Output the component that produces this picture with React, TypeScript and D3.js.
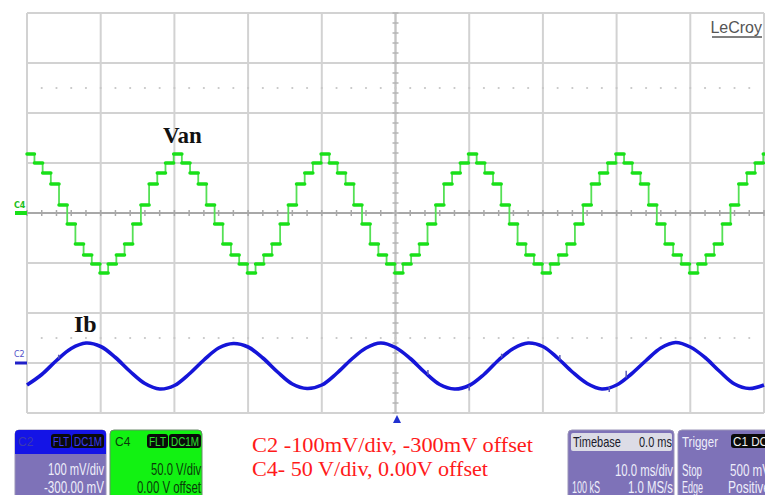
import * as d3 from 'd3';
import React, { useRef, useEffect } from 'react';

const W = 765;
const H = 495;

// C4 (Van): stair levels in volts over one 20 ms period, starting at the peak step
const vanLevels = [59, 50, 40, 29, 8, -11, -31, -42, -51, -60, -51, -42, -31, -11, 8, 29, 40, 50];
const vanPeriodMs = 20;
const vanStartMs = -0.1;

// C2 (Ib): trace read every 2 ms, in mV
const ibTimes = d3.range(0, 101, 2);
const ibValues = [
  -44, -23, 5, 29, 40, 33, 11, -17, -41, -52,
  -45, -22, 6, 30, 39, 32, 10, -18, -42, -51,
  -44, -21, 7, 30, 40, 31, 9, -19, -43, -52,
  -45, -23, 6, 29, 40, 33, 10, -18, -41, -52,
  -44, -22, 5, 30, 41, 32, 11, -17, -42, -51,
  -44,
];
// small glitches on the current trace: [time ms, height mV]
const ibSpikes = [[4.3, 8], [54.4, 10], [60, -10], [64.4, 8], [72.3, 10], [79, -10], [81.3, 14]];

const timeTicks = d3.range(0, 101, 10);
const voltTicks = d3.range(-200, 201, 50);

function Scope() {
  const ref = useRef(null);

  useEffect(() => {
    draw();
  }, []);

  const draw = () => {
    const svg = d3.select(ref.current);
    svg.selectAll('*').remove();

    const x = d3.scaleLinear().domain([0, 100]).range([27, 764]);
    const y4 = d3.scaleLinear().domain([-200, 200]).range([413, 13]);
    const y2 = d3.scaleLinear().domain([-100, 700]).range([413, 13]);

    svg.append('rect').attr('width', W).attr('height', H).attr('fill', '#fff');

    // grid
    const g = svg.append('g');
    g.selectAll('.vl').data(timeTicks).enter().append('line')
      .attr('x1', d => x(d)).attr('x2', d => x(d))
      .attr('y1', y4(200)).attr('y2', y4(-200))
      .attr('stroke', '#d2d2d2').attr('stroke-width', 2);
    g.selectAll('.hl').data(voltTicks).enter().append('line')
      .attr('x1', x(0)).attr('x2', x(100))
      .attr('y1', d => y4(d)).attr('y2', d => y4(d))
      .attr('stroke', d => d === 0 ? '#a8a8a8' : '#d2d2d2').attr('stroke-width', 2);
    g.append('line').attr('x1', x(50)).attr('x2', x(50)).attr('y1', y4(200)).attr('y2', y4(-200))
      .attr('stroke', '#c4c4c4').attr('stroke-width', 2);

    // minor ticks on centre axes
    g.selectAll('.mt').data(d3.range(0, 101, 2)).enter().append('line')
      .attr('x1', d => x(d)).attr('x2', d => x(d))
      .attr('y1', y4(0) - 3).attr('y2', y4(0) + 3)
      .attr('stroke', '#a8a8a8').attr('stroke-width', 1.5);
    g.selectAll('.mv').data(d3.range(-200, 201, 10)).enter().append('line')
      .attr('x1', x(50) - 3).attr('x2', x(50) + 3)
      .attr('y1', d => y4(d)).attr('y2', d => y4(d))
      .attr('stroke', '#b4b4b4').attr('stroke-width', 1.5);

    // dotted cursor rows
    const dotRows = [y4(125), y2(50)];
    dotRows.forEach(yy => {
      g.selectAll(null).data(d3.range(2, 100, 2)).enter().append('circle')
        .attr('cx', d => x(d)).attr('cy', yy).attr('r', 1.1).attr('fill', '#c6c6c6');
    });

    // LeCroy logo
    svg.append('text').attr('x', 762).attr('y', 33).attr('text-anchor', 'end')
      .attr('font-family', 'Liberation Sans').attr('font-size', 16).attr('fill', '#555')
      .text('LeCroy');
    svg.append('line').attr('x1', 712).attr('x2', 762).attr('y1', 37).attr('y2', 37)
      .attr('stroke', '#555').attr('stroke-width', 1.5);

    // Van stair trace
    const stepMs = vanPeriodMs / vanLevels.length;
    const steps = [];
    for (let k = 0; vanStartMs + k * stepMs < 100; k++) {
      const t0 = vanStartMs + k * stepMs;
      steps.push({ t0: Math.max(0, t0), t1: Math.min(100, t0 + stepMs), v: vanLevels[k % vanLevels.length] });
    }
    const vg = svg.append('g');
    vg.selectAll('.vv').data(steps.slice(0, -1)).enter().append('line')
      .attr('x1', d => x(d.t1)).attr('x2', d => x(d.t1))
      .attr('y1', d => y4(d.v)).attr('y2', (d, i) => y4(steps[i + 1].v))
      .attr('stroke', '#55e055').attr('stroke-width', 1.8);
    vg.selectAll('.vh').data(steps).enter().append('line')
      .attr('x1', d => x(d.t0)).attr('x2', d => x(d.t1))
      .attr('y1', d => y4(d.v)).attr('y2', d => y4(d.v))
      .attr('stroke', '#18e018').attr('stroke-width', 3.5).attr('stroke-linecap', 'round');

    // Ib trace
    const line = d3.line().x(d => x(d[0])).y(d => y2(d[1])).curve(d3.curveCatmullRom);
    const ibPts = ibTimes.map((t, i) => [t, ibValues[i]]);
    svg.append('path').attr('d', line(ibPts)).attr('fill', 'none')
      .attr('stroke', '#1515d8').attr('stroke-width', 3.6);
    const ibAt = d3.scaleLinear().domain(ibTimes).range(ibValues);
    svg.selectAll('.sp').data(ibSpikes).enter().append('line')
      .attr('x1', d => x(d[0])).attr('x2', d => x(d[0]))
      .attr('y1', d => y2(ibAt(d[0]))).attr('y2', d => y2(ibAt(d[0]) + d[1]))
      .attr('stroke', '#5a5ab8').attr('stroke-width', 1.5);

    // channel markers
    svg.append('text').attr('x', 14).attr('y', 208).attr('font-family', 'DejaVu Sans')
      .attr('font-size', 8).attr('font-weight', 'bold').attr('fill', '#20c020').text('C4');
    svg.append('rect').attr('x', 15).attr('y', y4(0) - 2).attr('width', 12).attr('height', 4).attr('fill', '#18e018');
    svg.append('text').attr('x', 14).attr('y', 357).attr('font-family', 'DejaVu Sans')
      .attr('font-size', 8).attr('fill', '#5050c8').text('C2');
    svg.append('rect').attr('x', 15).attr('y', y2(0) - 1.5).attr('width', 12).attr('height', 3).attr('fill', '#2020c8');

    // trace labels
    svg.append('text').attr('x', 163).attr('y', 143).attr('font-family', 'Liberation Serif')
      .attr('font-size', 23).attr('font-weight', 'bold').attr('fill', '#111').text('Van');
    svg.append('text').attr('x', 74).attr('y', 332).attr('font-family', 'Liberation Serif')
      .attr('font-size', 24).attr('font-weight', 'bold').attr('fill', '#111').text('Ib');

    // trigger marker
    svg.append('path')
      .attr('d', `M${x(50.2) - 4},${y4(-200) + 10} L${x(50.2) + 4},${y4(-200) + 10} L${x(50.2)},${y4(-200) + 2} Z`)
      .attr('fill', '#2030d0');

    // red annotation
    const red = svg.append('g').attr('font-family', 'Liberation Serif').attr('font-size', 21).attr('fill', '#ff1a1a');
    red.append('text').attr('x', 252).attr('y', 452).attr('textLength', 281).attr('lengthAdjust', 'spacingAndGlyphs')
      .text('C2 -100mV/div, -300mV offset');
    red.append('text').attr('x', 252).attr('y', 476).attr('textLength', 236).attr('lengthAdjust', 'spacingAndGlyphs')
      .text('C4- 50 V/div, 0.00V offset');

    // panels
    const purple = '#7e72b8';
    const txt = (sel, xx, yy, s, len, anchor, fill, size = 16) => {
      const t = sel.append('text').attr('x', xx).attr('y', yy).attr('text-anchor', anchor)
        .attr('font-family', 'Liberation Sans').attr('font-size', size).attr('fill', fill).text(s);
      if (len) t.attr('textLength', len).attr('lengthAdjust', 'spacingAndGlyphs');
      return t;
    };
    const badge = (sel, x0, x1, yy, s, fg) => {
      sel.append('rect').attr('x', x0).attr('y', yy).attr('width', x1 - x0).attr('height', 14).attr('rx', 3).attr('fill', '#0a0a0a');
      txt(sel, (x0 + x1) / 2, yy + 11.5, s, x1 - x0 - 4, 'middle', fg, 12);
    };

    const p = svg.append('g');
    // C2
    p.append('rect').attr('x', 15).attr('y', 430).attr('width', 91).attr('height', 70).attr('rx', 4)
      .attr('fill', purple).attr('stroke', '#9a94b8');
    p.append('path').attr('d', 'M15,454 V434 Q15,430 19,430 H102 Q106,430 106,434 V454 Z').attr('fill', '#1414e6');
    txt(p, 18, 446, 'C2', 0, 'start', '#3a3ab0', 12);
    badge(p, 51, 71, 434, 'FLT', '#3a3af0');
    badge(p, 72, 104, 434, 'DC1M', '#3a3af0');
    txt(p, 104, 475, '100 mV/div', 56, 'end', '#eeeefa');
    txt(p, 104, 493, '-300.00 mV', 60, 'end', '#eeeefa');
    // C4
    p.append('rect').attr('x', 110).attr('y', 430).attr('width', 92).attr('height', 70).attr('rx', 4)
      .attr('fill', '#12f212').attr('stroke', '#6a8a6a');
    txt(p, 115, 446, 'C4', 0, 'start', '#0a3a0a', 12);
    badge(p, 147, 168, 434, 'FLT', '#30e030');
    badge(p, 169, 201, 434, 'DC1M', '#30e030');
    txt(p, 201, 475, '50.0 V/div', 50, 'end', '#0a3a0a');
    txt(p, 201, 493, '0.00 V offset', 64, 'end', '#0a3a0a');
    // Timebase
    p.append('rect').attr('x', 568).attr('y', 430).attr('width', 106).attr('height', 70).attr('rx', 4)
      .attr('fill', purple).attr('stroke', '#9a94b8');
    p.append('rect').attr('x', 571).attr('y', 433).attr('width', 101).attr('height', 18).attr('rx', 2).attr('fill', '#dcdce6');
    txt(p, 573, 447, 'Timebase', 48, 'start', '#1a1a2a', 15);
    txt(p, 672, 447, '0.0 ms', 33, 'end', '#1a1a2a', 15);
    txt(p, 673, 476, '10.0 ms/div', 58, 'end', '#eeeefa');
    txt(p, 572, 493, '100 kS', 28, 'start', '#eeeefa');
    txt(p, 673, 493, '1.0 MS/s', 45, 'end', '#eeeefa');
    // Trigger
    p.append('rect').attr('x', 678).attr('y', 430).attr('width', 100).attr('height', 70).attr('rx', 4)
      .attr('fill', purple).attr('stroke', '#9a94b8');
    txt(p, 682, 447, 'Trigger', 36, 'start', '#eeeefa', 15);
    badge(p, 731, 770, 434, 'C1 DC', '#eeeeee');
    txt(p, 682, 476, 'Stop', 20, 'start', '#eeeefa');
    txt(p, 730, 476, '500 mV', 40, 'start', '#eeeefa');
    txt(p, 682, 493, 'Edge', 21, 'start', '#eeeefa');
    txt(p, 728, 493, 'Positive', 42, 'start', '#eeeefa');
  };

  return (
    <svg ref={ref} width={W} height={H} style={{ position: 'absolute', left: 0, top: 0 }}></svg>
  );
}

export default function App() {
  return <Scope />;
}
